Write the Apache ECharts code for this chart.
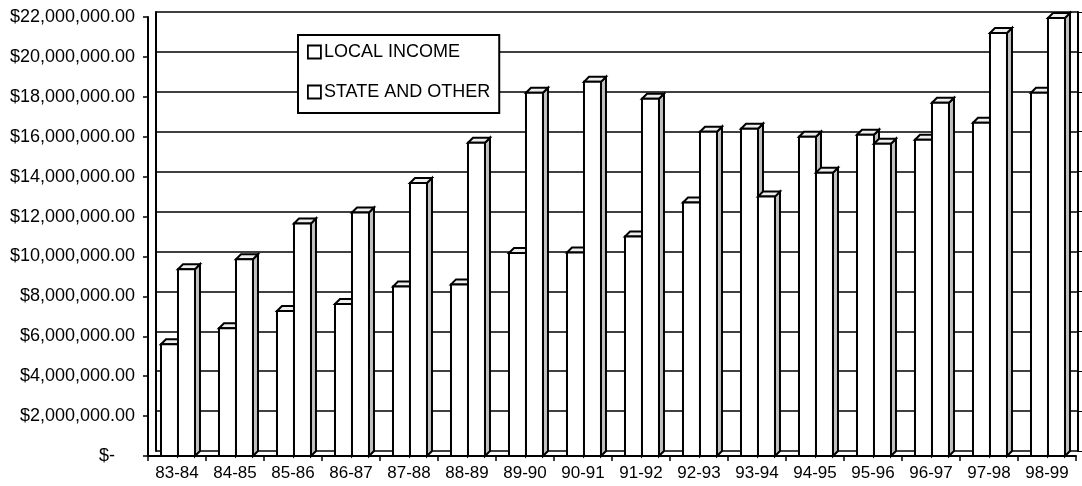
<!DOCTYPE html>
<html><head><meta charset="utf-8">
<script src="https://cdn.jsdelivr.net/npm/echarts@6/dist/echarts.min.js"></script>
<style>html,body{margin:0;padding:0;background:#fff}#c{width:1082px;height:486px}</style>
</head><body><div id="c"></div>
<script>
var categories = ['83-84','84-85','85-86','86-87','87-88','88-89','89-90','90-91','91-92','92-93','93-94','94-95','95-96','96-97','97-98','98-99'];
var localIncome = [5600000,6400000,7270000,7620000,8490000,8600000,10170000,10200000,11000000,12700000,16400000,16000000,16100000,15850000,16700000,18200000];
var stateOther = [9360000,9860000,11650000,12200000,13680000,15700000,18200000,18750000,17900000,16250000,13000000,14200000,15650000,17700000,21200000,21950000];
var seriesNames = ['LOCAL INCOME','STATE AND OTHER'];

var FONT = '"Liberation Sans", Arial, sans-serif';
var DX = 5, DY = -5;

function makeRender(side){
  return function(params, api){
    var i = api.value(0), v = api.value(1);
    var top = api.coord([i, v]);
    var base = api.coord([i, 0]);
    var band = api.size([1, 0])[0];
    var w = band * 0.293;
    var x0 = top[0] - band * 0.276 + side * w;
    var yt = top[1], yb = base[1];
    var st = {stroke:'#000', lineWidth:2};
    return {
      type:'group',
      children:[
        {type:'polygon', shape:{points:[[x0+w,yt],[x0+w+DX,yt+DY],[x0+w+DX,yb+DY],[x0+w,yb]]}, style:Object.assign({fill:'#c0c0c0'}, st)},
        {type:'polygon', shape:{points:[[x0,yt],[x0+DX,yt+DY],[x0+w+DX,yt+DY],[x0+w,yt]]}, style:Object.assign({fill:'#eeeeee'}, st)},
        {type:'rect', shape:{x:x0, y:yt, width:w, height:yb-yt}, style:Object.assign({fill:'#fff'}, st)}
      ]
    };
  };
}

function toData(arr){ return arr.map(function(v, i){ return [i, v]; }); }

function fmt(v){
  if (v === 0) return '$-\u00a0\u00a0\u00a0\u00a0';
  return '$' + v.toLocaleString('en-US', {minimumFractionDigits:2, maximumFractionDigits:2});
}

var chart = echarts.init(document.getElementById('c'), null, {renderer:'canvas'});
chart.setOption({
  animation:false,
  backgroundColor:'#fff',
  legend:{
    data:seriesNames,
    orient:'vertical',
    left:298, top:35,
    backgroundColor:'#fff',
    borderColor:'#000', borderWidth:2,
    padding:[8, 9, 12, 9],
    itemGap:22,
    itemWidth:13, itemHeight:13,
    icon:'rect',
    itemStyle:{color:'#fff', borderColor:'#000', borderWidth:1.8},
    textStyle:{fontFamily:FONT, fontSize:18, color:'#000', padding:[0,0,0,-2]}
  },
  grid:[
    {left:148, right:6, top:17, bottom:30},
    {left:156, right:4, top:12, bottom:35}
  ],
  xAxis:[
    {type:'category', gridIndex:0, data:categories,
     axisLine:{lineStyle:{color:'#000', width:2}},
     axisTick:{show:true, length:5, lineStyle:{color:'#000', width:1.5}},
     axisLabel:{fontFamily:FONT, fontSize:17, color:'#000', margin:9}},
    {type:'value', gridIndex:1, show:false, min:0, max:1}
  ],
  yAxis:[
    {type:'value', gridIndex:0, min:0, max:22000000, interval:2000000,
     axisLine:{show:true, lineStyle:{color:'#000', width:2}},
     axisTick:{show:true, length:5, lineStyle:{color:'#000', width:1.5}},
     splitLine:{show:false},
     axisLabel:{fontFamily:FONT, fontSize:18, color:'#000', margin:13, formatter:fmt}},
    {type:'value', gridIndex:1, min:0, max:22000000, interval:2000000,
     axisLine:{show:true, lineStyle:{color:'#000', width:2}},
     axisTick:{show:false}, axisLabel:{show:false},
     splitLine:{show:true, lineStyle:{color:'#000', width:1.5}}},
    {type:'value', gridIndex:1, position:'right', min:0, max:22000000, interval:2000000,
     axisLine:{show:true, lineStyle:{color:'#000', width:2}},
     axisTick:{show:true, inside:false, length:4, lineStyle:{color:'#000'}},
     axisLabel:{show:false}, splitLine:{show:false}}
  ],
  series:[
    {name:seriesNames[0], type:'custom', xAxisIndex:0, yAxisIndex:0, renderItem:makeRender(0),
     itemStyle:{color:'#fff', borderColor:'#000'}, encode:{x:0, y:1}, data:toData(localIncome), z:3},
    {name:seriesNames[1], type:'custom', xAxisIndex:0, yAxisIndex:0, renderItem:makeRender(1),
     itemStyle:{color:'#fff', borderColor:'#000'}, encode:{x:0, y:1}, data:toData(stateOther), z:4}
  ]
});
</script></body></html>
